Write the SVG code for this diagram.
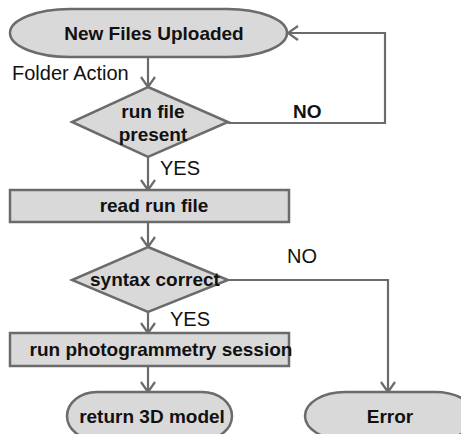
<svg xmlns="http://www.w3.org/2000/svg" width="461" height="434" viewBox="0 0 461 434">
<style>
.shape{fill:#d9d9d9;stroke:#6b6b6b;stroke-width:2.5}
.line{fill:none;stroke:#6b6b6b;stroke-width:2.2}
.b{font-family:"Liberation Sans",Arial,sans-serif;font-weight:bold;font-size:19px;fill:#111}
.n{font-family:"Liberation Sans",Arial,sans-serif;font-size:20px;fill:#111}
</style>
<defs>
<marker id="arr" viewBox="-12 -8 16 16" refX="0" refY="0" markerWidth="16" markerHeight="16" markerUnits="userSpaceOnUse" orient="auto">
<path d="M-10,-7 L2,1.4 M-10,7 L2,-1.4" fill="none" stroke="#6b6b6b" stroke-width="2.2"/>
</marker>
</defs>
<g id="connectors">
<line class="line" x1="148" y1="57" x2="148" y2="87" marker-end="url(#arr)"/>
<polyline class="line" points="228,123 385,123 385,33 288,33" marker-end="url(#arr)"/>
<line class="line" x1="148" y1="157" x2="148" y2="190" marker-end="url(#arr)"/>
<line class="line" x1="148" y1="222" x2="148" y2="247" marker-end="url(#arr)"/>
<polyline class="line" points="228,280 388,280 388,392" marker-end="url(#arr)"/>
<line class="line" x1="148" y1="312" x2="148" y2="333" marker-end="url(#arr)"/>
<line class="line" x1="148" y1="366" x2="148" y2="392" marker-end="url(#arr)"/>
</g>
<g id="start">
<rect class="shape" x="10" y="9" width="277" height="48" rx="60" ry="24"/>
<text class="b" x="154" y="40" text-anchor="middle">New Files Uploaded</text>
</g>
<g id="label-folder"><text class="n" x="12" y="80">Folder Action</text></g>
<g id="decision1">
<polygon class="shape" points="148,87 228,122 148,157 72,122"/>
<text class="b" x="153" y="118" text-anchor="middle">run file</text>
<text class="b" x="153" y="141" text-anchor="middle">present</text>
</g>
<g id="label-no1"><text class="b" x="293" y="118">NO</text></g>
<g id="label-yes1"><text class="n" x="160" y="175">YES</text></g>
<g id="read">
<rect class="shape" x="10" y="190" width="279" height="32"/>
<text class="b" x="154" y="212" text-anchor="middle">read run file</text>
</g>
<g id="decision2">
<polygon class="shape" points="148,247 228,280 148,312 72,280"/>
<text class="b" x="155" y="286" text-anchor="middle">syntax correct</text>
</g>
<g id="label-no2"><text class="n" x="287" y="263">NO</text></g>
<g id="label-yes2"><text class="n" x="170" y="326">YES</text></g>
<g id="session">
<rect class="shape" x="10" y="333" width="279" height="33"/>
<text class="b" x="161" y="356" text-anchor="middle">run photogrammetry session</text>
</g>
<g id="result">
<rect class="shape" x="67" y="392" width="165" height="48" rx="30" ry="24"/>
<text class="b" x="152" y="423" text-anchor="middle">return 3D model</text>
</g>
<g id="error">
<rect class="shape" x="305" y="392" width="170" height="48" rx="40" ry="24"/>
<text class="b" x="390" y="423" text-anchor="middle">Error</text>
</g>
</svg>
